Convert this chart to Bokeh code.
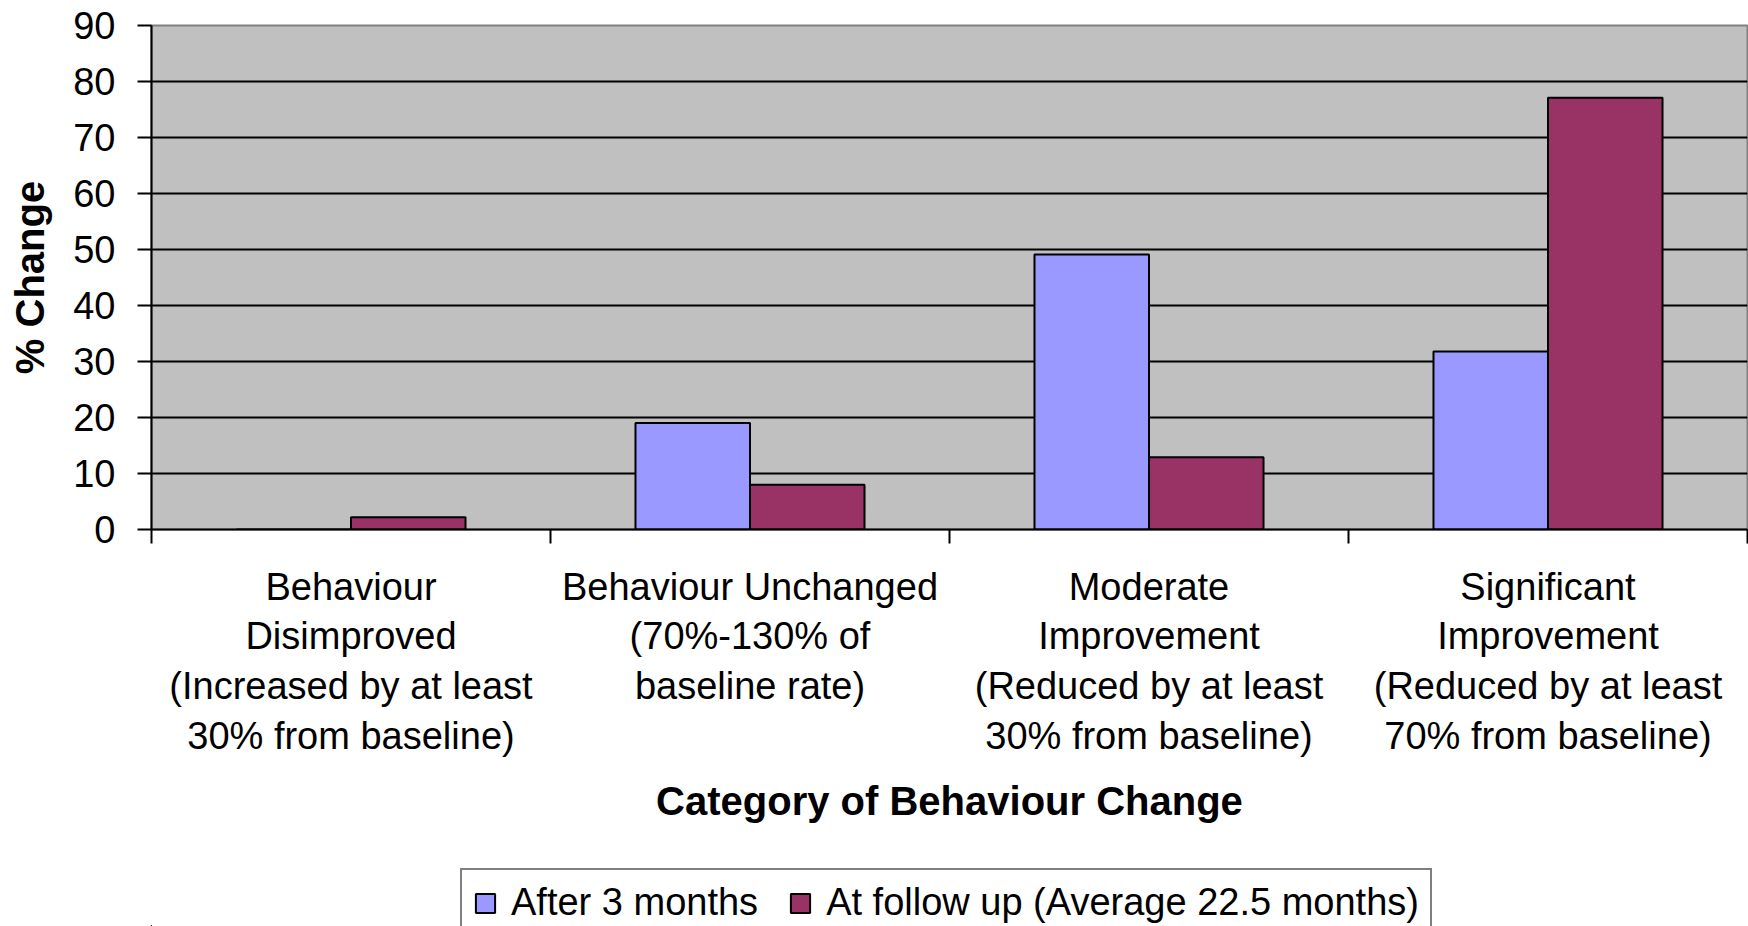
from bokeh.plotting import figure
from bokeh.layouts import column
from bokeh.models import (ColumnDataSource, Range1d, FixedTicker, Legend, LegendItem)
from bokeh.transform import dodge
from bokeh.embed import file_html
from bokeh.resources import INLINE

# ---- data ----
categories = [
    "Behaviour\nDisimproved\n(Increased by at least\n30% from baseline)",
    "Behaviour Unchanged\n(70%-130% of\nbaseline rate)",
    "Moderate\nImprovement\n(Reduced by at least\n30% from baseline)",
    "Significant\nImprovement\n(Reduced by at least\n70% from baseline)",
]
after_3_months = [0.0, 19.0, 49.1, 31.8]
at_follow_up = [2.2, 8.0, 12.9, 77.1]
series_names = ["After 3 months", "At follow up (Average 22.5 months)"]
y_ticks = [0, 10, 20, 30, 40, 50, 60, 70, 80, 90]

FONT = "Liberation Sans"
BLUE = "#9999FF"
PLUM = "#993366"

idx = list(range(len(categories)))
source = ColumnDataSource(dict(x=idx, a=after_3_months, b=at_follow_up))
bw = 0.287

# ---- main chart ----
p = figure(width=1748, height=860, output_backend="svg", toolbar_location=None,
           x_range=Range1d(-0.5, len(categories) - 0.5), y_range=Range1d(0, 90),
           min_border_left=151, min_border_right=1, min_border_top=25,
           min_border_bottom=331)

p.background_fill_color = "#C0C0C0"
p.border_fill_color = "white"
p.outline_line_color = "#808080"
p.outline_line_width = 2

p.vbar(x=dodge("x", -bw / 2, range=p.x_range), top="a", width=bw, source=source,
       fill_color=BLUE, line_color="black", line_width=2)
p.vbar(x=dodge("x", bw / 2, range=p.x_range), top="b", width=bw, source=source,
       fill_color=PLUM, line_color="black", line_width=2)

p.xgrid.visible = False
p.ygrid.ticker = FixedTicker(ticks=y_ticks[1:-1])
p.ygrid.grid_line_color = "black"
p.ygrid.grid_line_width = 2

ya = p.yaxis[0]
ya.ticker = FixedTicker(ticks=y_ticks)
ya.axis_line_color = "black"
ya.axis_line_width = 2
ya.major_tick_out = 14
ya.major_tick_in = 0
ya.major_tick_line_width = 2
ya.minor_tick_line_color = None
ya.major_label_text_font = FONT
ya.major_label_text_font_size = "38px"
ya.major_label_text_color = "black"
ya.major_label_standoff = 22
ya.axis_label = "% Change"
ya.axis_label_text_font = FONT
ya.axis_label_text_font_size = "40px"
ya.axis_label_text_font_style = "bold"
ya.axis_label_text_color = "black"
ya.axis_label_standoff = 18

xa = p.xaxis[0]
xa.ticker = FixedTicker(ticks=idx, minor_ticks=[i - 0.5 for i in range(len(categories) + 1)])
xa.major_label_overrides = {i: c for i, c in zip(idx, categories)}
xa.axis_line_color = "black"
xa.axis_line_width = 2
xa.major_tick_line_color = None
xa.major_tick_out = 14
xa.major_tick_in = 0
xa.minor_tick_out = 14
xa.minor_tick_in = 0
xa.minor_tick_line_color = "black"
xa.minor_tick_line_width = 2
xa.major_label_text_font = FONT
xa.major_label_text_font_size = "38px"
xa.major_label_text_color = "black"
xa.major_label_text_line_height = 1.19
xa.major_label_standoff = 22
xa.axis_label = "Category of Behaviour Change"
xa.axis_label_text_font = FONT
xa.axis_label_text_font_size = "40px"
xa.axis_label_text_font_style = "bold"
xa.axis_label_text_color = "black"
xa.axis_label_standoff = 19

# ---- legend strip (same series, plotted far out of view so only the key shows) ----
q = figure(width=1748, height=66, output_backend="svg", toolbar_location=None,
           x_range=Range1d(1000, 1001), y_range=Range1d(1000, 1001),
           x_axis_location=None, y_axis_location=None,
           min_border_left=151, min_border_right=1, min_border_top=0, min_border_bottom=0)
q.background_fill_color = "white"
q.border_fill_color = "white"
q.outline_line_color = None
q.grid.visible = False
s1 = q.vbar(x=dodge("x", -bw / 2, range=q.x_range), top="a", width=bw, source=source,
            fill_color=BLUE, line_color="black", line_width=2)
s2 = q.vbar(x=dodge("x", bw / 2, range=q.x_range), top="b", width=bw, source=source,
            fill_color=PLUM, line_color="black", line_width=2)

legend = Legend(items=[LegendItem(label=series_names[0], renderers=[s1]),
                       LegendItem(label=series_names[1], renderers=[s2])],
                orientation="horizontal", location=(309, -11))
legend.label_text_font = FONT
legend.label_text_font_size = "38px"
legend.label_text_color = "black"
legend.glyph_width = 24
legend.glyph_height = 24
legend.label_standoff = 14
legend.spacing = 30
legend.padding = 11
legend.margin = 0
legend.border_line_color = "black"
legend.border_line_width = 2
legend.background_fill_color = "white"
legend.background_fill_alpha = 1
q.add_layout(legend, "center")

layout = column(p, q, spacing=0)
open("out.html", "w").write(file_html(layout, INLINE))
